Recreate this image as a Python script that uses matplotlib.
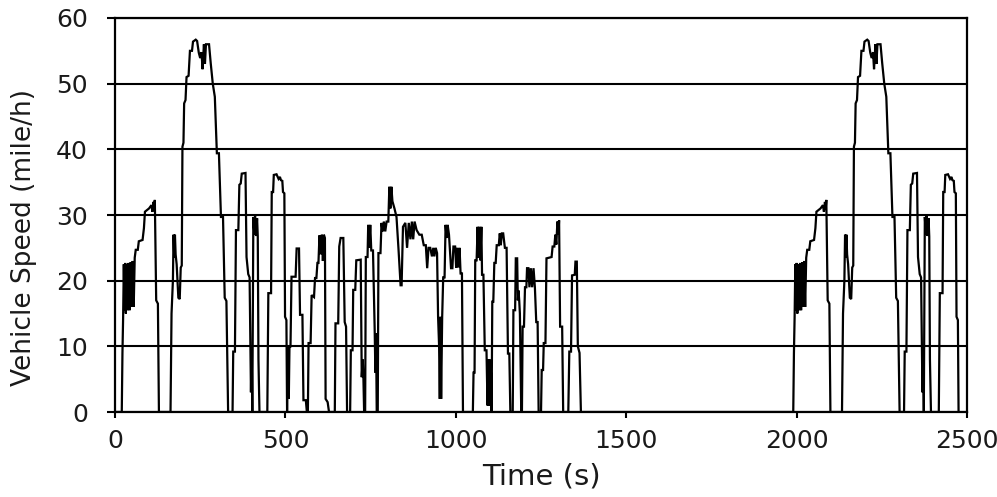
import matplotlib
matplotlib.use('Agg')
import matplotlib.pyplot as plt

# cold-start phase (s, mile/h)
cold_t = [0, 20, 22, 24, 26, 28, 30, 32, 34, 37, 40, 43, 46, 49, 52, 55, 58, 61, 67, 70, 81, 85, 88, 100,
          107, 110, 113, 115, 117, 119, 121, 126, 129,
          163, 166, 170, 172, 174, 176, 178, 181, 186, 190, 193, 196, 198, 201, 203, 207, 210, 216, 220,
          226, 229, 237, 241, 246, 250, 254, 257, 261, 264, 267, 276, 281, 287, 293, 299, 305, 311, 317,
          322, 327, 332,
          345, 347, 352, 355, 362, 365, 369, 372, 383, 386, 391, 395, 397, 399, 401, 403,
          406, 409, 411, 414, 417, 419, 421, 424,
          447, 450, 458, 460, 464, 466, 474, 480, 484, 487, 491, 493, 497, 499, 503, 505]
cold_v = [0, 0, 9, 14.5, 22.5, 15.5, 22.7, 15, 22.5, 15.5, 22.7, 15.5, 22.8, 16, 23, 16, 23.5, 24.7, 24.7, 26, 26.2, 28, 30.5, 31,
          31.5, 30.5, 32, 30.8, 32.3, 25, 17, 16.5, 0,
          0, 15, 20, 27, 23.5, 27, 24, 22.5, 17.4, 17.2, 22, 22.3, 40.4, 41, 47, 47.5, 51, 51.2, 55,
          55, 56.4, 56.7, 56.5, 54.7, 53.9, 54.8, 52.2, 56, 53, 56, 56, 53.1, 50, 48, 39.4, 39.4, 29.7, 29.7,
          17.4, 16.9, 0,
          0, 9.2, 9.2, 27.7, 27.7, 34.6, 34.8, 36.3, 36.4, 23.6, 21, 20.5, 11, 3, 10, 0,
          29.7, 27, 30, 26.8, 29.5, 26.7, 8, 0,
          0, 18.1, 18.1, 33.5, 33.5, 36.1, 36.2, 35.5, 35.8, 35.3, 35.2, 33.5, 33.3, 14.5, 14, 0]

# stabilized phase
stab_t = [507, 510, 512, 515, 518, 530, 533, 540, 543, 550, 553, 560, 563,
          566, 568, 574, 577, 584, 587, 591, 594, 597, 600, 604, 607, 610, 613, 616, 618, 624, 628,
          645, 647, 655, 658, 662, 670, 674, 678, 681,
          690, 692, 697, 699, 705, 708, 721, 724, 727, 729, 731, 734, 736, 741, 743, 746, 749, 752, 757,
          762, 764, 766, 768,
          771, 773, 779, 782, 785, 789, 793, 797, 802, 805, 808, 811, 814, 820, 826, 832, 838, 841, 845,
          852, 857, 862, 867, 871, 875, 879, 885, 893, 900, 906, 912, 916, 920, 925, 930, 934, 937, 941,
          945, 948, 951, 953, 955, 957, 960, 963, 967, 970, 973, 976, 980, 986, 990, 993, 998, 1001, 1004,
          1007, 1011, 1014, 1018, 1021,
          1050, 1052, 1055, 1057, 1061, 1064, 1066, 1069, 1072, 1075, 1077, 1081, 1085, 1090, 1093, 1095,
          1097, 1099, 1101, 1103, 1105, 1107, 1110, 1113, 1117, 1120, 1126, 1129, 1132, 1135, 1139, 1144,
          1149, 1153, 1157, 1160,
          1167, 1169, 1174, 1176, 1180, 1182, 1184, 1186, 1188, 1192, 1194, 1196, 1200, 1203, 1207, 1209,
          1213, 1216, 1220, 1224, 1228, 1232, 1236, 1240, 1243,
          1250, 1252, 1256, 1258, 1263, 1266, 1281, 1284, 1289, 1292, 1295, 1298, 1301, 1303, 1306, 1312, 1315,
          1330, 1333, 1338, 1341, 1349, 1351, 1355, 1358, 1363, 1367, 1369]
stab_v = [10, 2, 10, 10, 20.6, 20.6, 24.9, 24.9, 14.8, 14.8, 1.8, 1.8, 0,
          0, 10.5, 10.5, 17.8, 17.5, 20.4, 20.4, 22.7, 22.7, 26.9, 24, 27, 23, 27, 26.5, 2, 1.5, 0,
          0, 13.5, 13.5, 25.2, 26.5, 26.5, 13.7, 13, 0,
          0, 9.4, 9.4, 18.6, 18.6, 23.1, 23.2, 5.3, 8, 5, 0, 0, 23.6, 23.6, 28.5, 25, 28.5, 24.6, 24.6,
          12.5, 6, 12, 0,
          0, 24.2, 24.2, 28.8, 27.5, 29, 27.5, 29, 29, 34.3, 31, 34.3, 32.1, 31, 29.7, 24.7, 19.3, 19.3, 28.2,
          28.8, 25, 28.8, 26.3, 29, 26.3, 29, 27.7, 27, 27, 25.4, 25.4, 21.9, 25, 25, 23.7, 25, 23.7, 25,
          24.2, 14.5, 10, 2, 14.5, 2, 14.5, 20.5, 20.5, 28.5, 26.5, 28.5, 27, 21.9, 21.9, 25.2, 25.2, 22, 25,
          22, 25, 21.1, 21.1, 0,
          0, 6, 6, 23.1, 23.1, 28.2, 23.5, 28.2, 23.1, 28.2, 20.9, 20.9, 9.4, 9.4, 1, 8,
          1, 8, 1, 6, 0, 16.8, 16.8, 22.7, 22.7, 25.4, 25.4, 27.2, 25.4, 27.2, 27.2, 25,
          25, 8.9, 8.9, 0,
          0, 15.5, 15.5, 23.4, 23.4, 17, 18.5, 17, 15, 0, 0, 13, 13, 19, 19, 21.9,
          21.9, 19, 21.9, 19, 21.9, 19, 13.7, 13.7, 0,
          0, 6.4, 6.4, 10.5, 10.5, 23.4, 23.6, 25.2, 25.2, 27, 25.5, 29, 27, 29.2, 13, 13, 0,
          0, 9.2, 9.2, 20.8, 20.9, 22.9, 22.9, 10, 9, 0, 0]

# hot-start phase repeats the cold-start phase after the soak
hot_start = 1970

time = cold_t + stab_t + [t + hot_start for t in cold_t]
speed = cold_v + stab_v + cold_v

fig = plt.figure(figsize=(9.97, 4.97), dpi=100)
ax = fig.add_axes([0.1153, 0.171, 0.8547, 0.7928])

ax.plot(time, speed, color='black', lw=1.6, solid_joinstyle='miter', zorder=3)

ax.set_xlim(0, 2500)
ax.set_ylim(0, 60)
ax.set_xticks(range(0, 2501, 500))
ax.set_yticks(range(0, 61, 10))
ax.yaxis.grid(True, color='black', lw=1.5)
ax.set_axisbelow(True)

for s in ax.spines.values():
    s.set_color('black')
    s.set_linewidth(1.6)

ax.tick_params(axis='x', direction='out', length=4.5, width=1.5, pad=7.5,
               labelsize=18, labelcolor='#1a1a1a')
ax.tick_params(axis='y', direction='out', length=5.5, width=1.5, pad=14,
               labelsize=18, labelcolor='#1a1a1a')

ax.set_xlabel('Time (s)', fontsize=21, color='#1a1a1a', labelpad=7)
ax.set_ylabel('Vehicle Speed (mile/h)', fontsize=19, color='#1a1a1a')
ax.yaxis.set_label_coords(-0.092, 0.444)

fig.savefig('out.png', dpi=100)
